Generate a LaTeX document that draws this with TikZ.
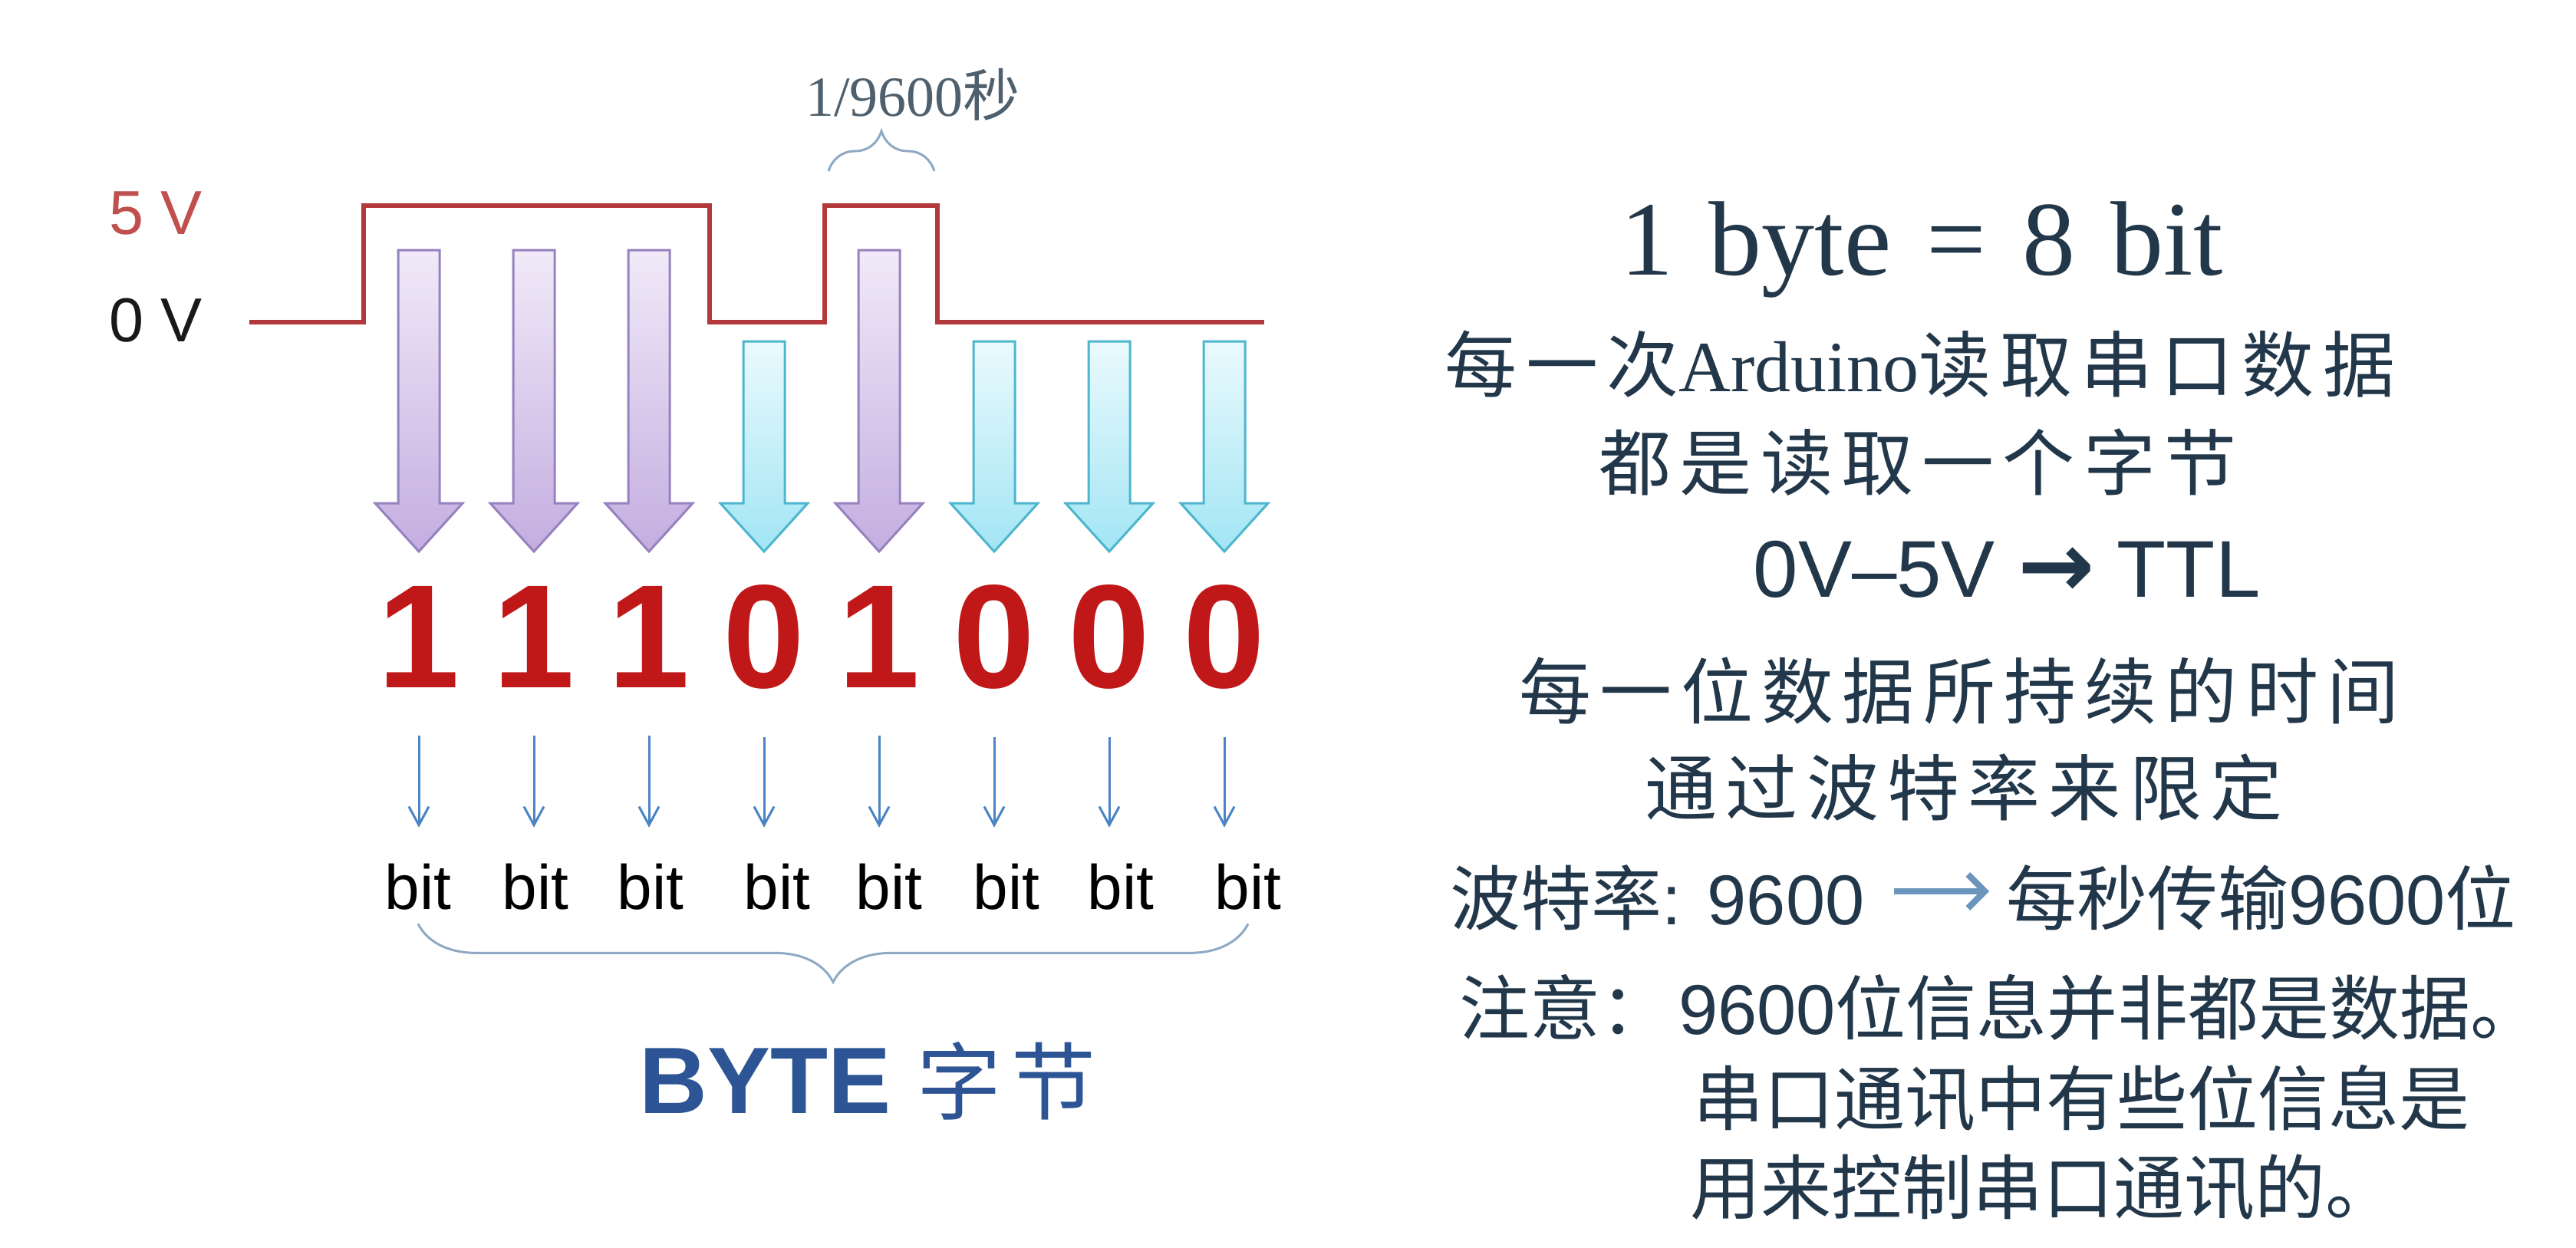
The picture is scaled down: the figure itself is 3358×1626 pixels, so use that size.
\documentclass[tikz,border=0pt]{standalone}
\usepackage{fontspec}
\setmainfont{Liberation Serif}
\setsansfont{Liberation Sans}
\newfontfamily\cjk{Noto Sans CJK SC}
\newfontfamily\cjkwide{Noto Sans CJK SC}[LetterSpace=12]
\newfontfamily\symb{DejaVu Sans}
\usetikzlibrary{arrows.meta,decorations.pathreplacing}

\definecolor{wavered}{HTML}{B3383B}
\definecolor{voltred}{HTML}{C0504D}
\definecolor{hifill}{HTML}{F0EAF8}
\definecolor{hifillb}{HTML}{C4ADE0}
\definecolor{hiline}{HTML}{9782C0}
\definecolor{lofill}{HTML}{EAFAFD}
\definecolor{lofillb}{HTML}{A2E5F4}
\definecolor{loline}{HTML}{4DB6CE}
\definecolor{digitred}{HTML}{C01818}
\definecolor{bitblue}{HTML}{4A84C4}
\definecolor{bracegray}{HTML}{8FA9C4}
\definecolor{bytetext}{HTML}{2D5595}
\definecolor{notetext}{HTML}{22384A}
\definecolor{linkblue}{HTML}{6C95BE}

% block arrow: x, top y, style
\newcommand{\bitarrow}[3]{%
  \draw[#3] (#1-27,#2) -- (#1+27,#2) -- (#1+27,656) -- (#1+57,656)
    -- (#1,719) -- (#1-57,656) -- (#1-27,656) -- cycle;}

\begin{document}
\begin{tikzpicture}[x=1pt,y=-1pt,every node/.style={inner sep=0pt}]
    \tikzstyle{wave}=[draw=wavered,line width=6pt]
    \tikzstyle{volt}=[font=\sffamily\fontsize{81pt}{81pt}\selectfont]
    \tikzstyle{hiarrow}=[draw=hiline,line width=3pt,top color=hifill,bottom color=hifillb]
    \tikzstyle{loarrow}=[draw=loline,line width=3pt,top color=lofill,bottom color=lofillb]
    \tikzstyle{digit}=[text=digitred,font=\sffamily\bfseries\fontsize{192pt}{192pt}\selectfont]
    \tikzstyle{bitlabel}=[font=\sffamily\fontsize{82pt}{82pt}\selectfont]
    \tikzstyle{bitlink}=[draw=bitblue,line width=3pt,-{Straight Barb[length=24pt,width=26pt]}]
    \tikzstyle{span}=[draw=bracegray,line width=3pt,decorate]
    \tikzstyle{note}=[text=notetext,font=\cjk\fontsize{92pt}{92pt}\selectfont]
    \tikzstyle{widenote}=[text=notetext,font=\cjkwide\fontsize{94pt}{94pt}\selectfont]
    \useasboundingbox[fill=white] (0,0) rectangle (3358,1626);

    % signal levels
    \node[volt,text=voltred] (five) at (203,278) {5 V};
    \node[volt,text=black!90] (zero) at (203,418) {0 V};
    \draw[wave] (325,420) -| (474,268) -| (925,420) -| (1075,268) -| (1222,420) -- (1648,420);

    % one period
    \coordinate (pl) at (1080,223);
    \coordinate (pr) at (1218,223);
    \draw[span,decoration={brace,amplitude=52pt}] (pl) -- (pr);
    \node[text=notetext!80,font=\fontsize{74pt}{74pt}\selectfont] (period) at (1190,123) {1/9600{\cjk 秒}};

    \foreach \x/\t/\s in {546/326/hiarrow,696/326/hiarrow,846/326/hiarrow,996/445/loarrow,
        1146/326/hiarrow,1296/445/loarrow,1446/445/loarrow,1596/445/loarrow}
      \bitarrow{\x}{\t}{\s};

    \foreach \x/\d/\b [count=\i] in {546/1/545,696/1/698,846/1/848,996/0/1013,
        1146/1/1159,1296/0/1312,1446/0/1461,1596/0/1627} {
      \node[digit] (d\i) at (\x,830) {\d};
      \node[bitlabel] (b\i) at (\b,1156) {bit};
      \draw[bitlink,shorten <=63pt,shorten >=47pt] (d\i.south) -- (d\i.south |- b\i.north);
    }

    \draw[span,decoration={brace,amplitude=76pt,mirror}] ([yshift=-18pt]b1.south) -- ([yshift=-18pt]b8.south);
    \node[text=bytetext] (byte) at (1131,1409)
      {\sffamily\bfseries\fontsize{123pt}{123pt}\selectfont BYTE\ {\cjkwide\mdseries\fontsize{110pt}{110pt}\selectfont 字节}};

    % notes on the right
    \node[text=notetext,font=\fontsize{138pt}{138pt}\selectfont,anchor=base] (bytedef) at (2505,358)
      {1\hspace{12pt} byte\hspace{12pt} =\hspace{12pt} 8\hspace{12pt} bit};
    \node[widenote] (readall) at (2503,475) {每一次{\rmfamily Arduino}读取串口数据};
    \node[widenote] (onebyte) at (2500,603) {都是读取一个字节};
    \node[text=notetext,font=\sffamily\fontsize{105pt}{105pt}\selectfont] (ttl) at (2616,742)
      {0V–5V {\symb\bfseries\fontsize{120pt}{120pt}\selectfont →} TTL};
    \node[widenote] (bittime) at (2554,901) {每一位数据所持续的时间};
    \node[widenote] (bybaud) at (2560,1027) {通过波特率来限定};
    \node[note,anchor=west] (baud) at (1890,1170) {波特率{\sffamily : 9600}};
    \node[note,anchor=west] (rate) at (2615,1170) {每秒传输{\sffamily 9600}位};
    \draw[draw=linkblue,line width=8pt,-{Straight Barb[length=22pt,width=44pt]},shorten <=38pt,shorten >=22pt]
      ([yshift=8pt]baud.east) -- ([yshift=8pt]baud.east -| rate.west);
    \node[note,anchor=west] (notice) at (1902,1313) {注意：\hspace{10pt}{\sffamily 9600}位信息并非都是数据。};
    \node[note,anchor=west] (ctrl1) at (2207,1432) {串口通讯中有些位信息是};
    \node[note,anchor=west] (ctrl2) at (2203,1548) {用来控制串口通讯的。};
\end{tikzpicture}
\end{document}
